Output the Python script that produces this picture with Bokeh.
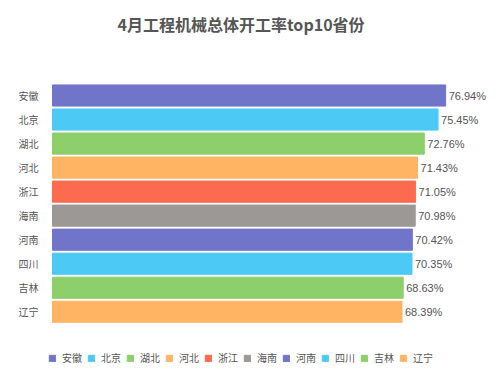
from bokeh.plotting import figure
from bokeh.models import (ColumnDataSource, Range1d, Legend, LegendItem, Label,
                          FixedTicker)
from bokeh.core.properties import value
from bokeh.embed import file_html
from bokeh.resources import INLINE

provinces = ["安徽", "北京", "湖北", "河北", "浙江", "海南", "河南", "四川", "吉林", "辽宁"]
rates = [76.94, 75.45, 72.76, 71.43, 71.05, 70.98, 70.42, 70.35, 68.63, 68.39]
colors = ["#7075c9", "#4dc9f6", "#8dcf6b", "#feb463", "#fc6a50", "#9c9895",
          "#7075c9", "#4dc9f6", "#8dcf6b", "#feb463"]
title_text = "4月工程机械总体开工率top10省份"

pos = list(range(len(provinces)))
labels = ["%.2f%%" % v for v in rates]
src = ColumnDataSource(dict(pos=pos, prov=provinces, rate=rates, color=colors, label=labels))

FONT = "Noto Sans CJK SC"

# frame spans full height; rows are 24.03px apart, first row centred at y=95px
p = figure(width=500, height=384, output_backend="svg", toolbar_location=None,
           y_range=Range1d(12.026, -3.954), x_range=Range1d(-1.566, 87.67),
           min_border_left=44, min_border_right=0, min_border_top=0, min_border_bottom=0,
           outline_line_color=None, title=None)

r = p.hbar(y="pos", right="rate", left=0, height=0.88, color="color", source=src)

p.text(x="rate", y="pos", text="label", source=src, x_offset=3,
       text_align="left", text_baseline="middle", text_font_size="11px",
       text_color="#555555", text_font=value("Liberation Sans"))

title = Label(x=73, y=361, x_units="screen", y_units="screen", text=title_text,
              text_font_size="16px", text_font_style="bold", text_color="#555555",
              text_font=FONT, text_align="left", text_baseline="middle")
p.add_layout(title)

p.xaxis.visible = False
p.xgrid.visible = False
p.ygrid.visible = False
p.yaxis.ticker = FixedTicker(ticks=pos)
p.yaxis.major_label_overrides = {i: prov for i, prov in zip(pos, provinces)}
p.yaxis.axis_line_color = None
p.yaxis.major_tick_line_color = None
p.yaxis.minor_tick_line_color = None
p.yaxis.major_label_text_font_size = "10px"
p.yaxis.major_label_text_color = "#555555"
p.yaxis.major_label_text_font = FONT
p.yaxis.major_label_standoff = 0

items = [LegendItem(label=prov, renderers=[r], index=i) for i, prov in enumerate(provinces)]
legend = Legend(items=items, orientation="horizontal", location=(4, 19),
                glyph_width=8, glyph_height=8, label_standoff=6, spacing=5,
                label_text_font_size="10px", label_text_color="#555555",
                label_text_font=FONT, border_line_color=None,
                background_fill_alpha=0, padding=0, margin=0,
                label_height=12, label_text_baseline="middle")
p.add_layout(legend, "center")

open("out.html", "w").write(file_html(p, INLINE))
